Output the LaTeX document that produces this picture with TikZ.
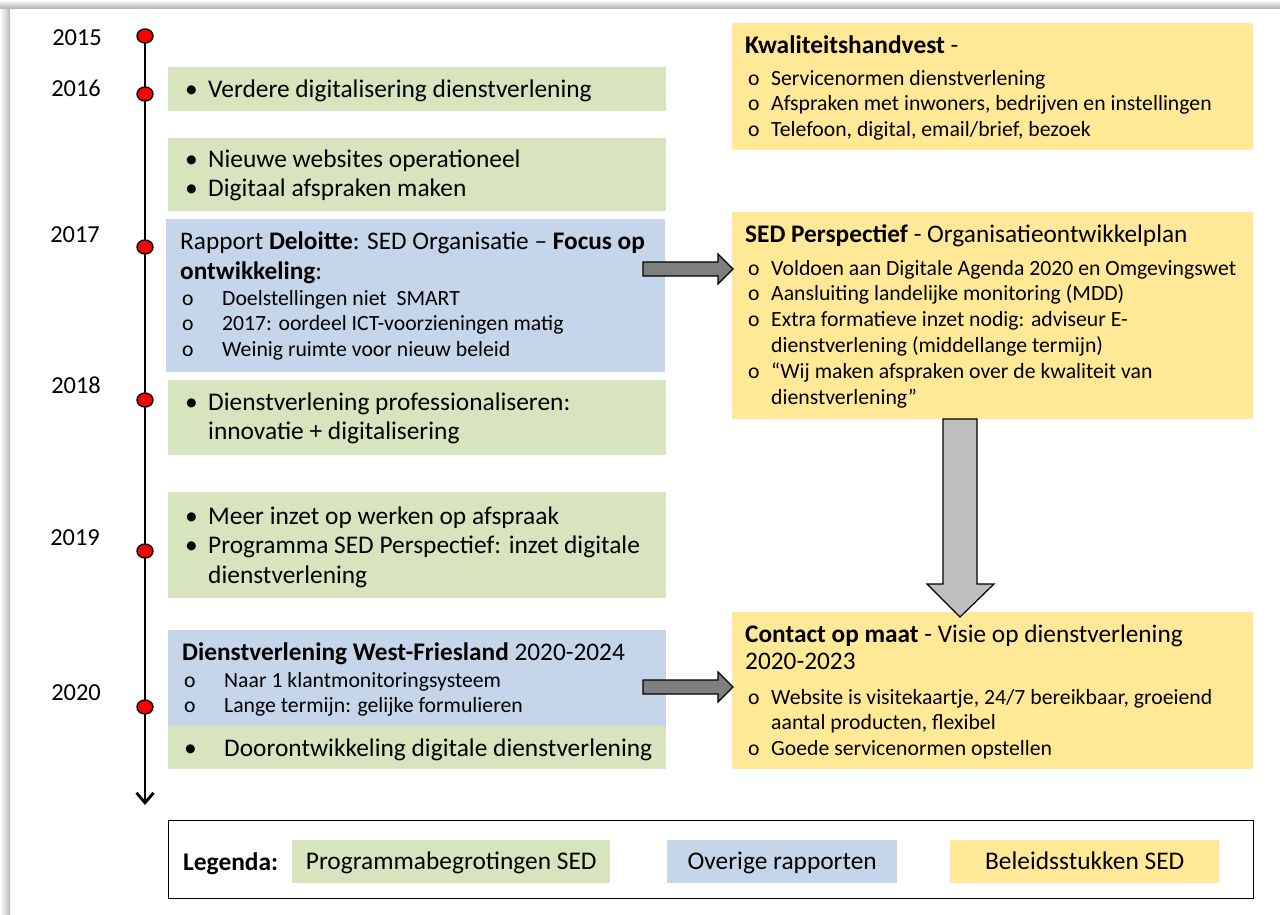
\documentclass[tikz,border=0pt]{standalone}
\usepackage{fontspec}
\setmainfont{Carlito}
\usetikzlibrary{arrows.meta,shapes.geometric}
\definecolor{grn}{HTML}{D7E4BD}
\definecolor{blu}{HTML}{C6D6EA}
\definecolor{yel}{HTML}{FFE997}
\definecolor{agray}{HTML}{7F7F7F}
\definecolor{lgray}{HTML}{BFBFBF}
\newcommand\Yr{\fontsize{24.5}{30}\selectfont}
\newcommand\Lg{\fontsize{25.5}{30}\selectfont}
\newcommand\Hb{\fontsize{25.4}{31}\selectfont}
\newcommand\Sm{\fontsize{21.8}{26}\selectfont}
\newcommand\Yh{\fontsize{25.4}{28}\selectfont}
\newcommand\Kh{\fontsize{25.5}{28}\selectfont}
\newcommand\Bu{\makebox[23bp][l]{•}}
\newcommand\Ob{\makebox[40bp][l]{o}}
\newcommand\Oy{\makebox[23bp][l]{o}}
\begin{document}
\begin{tikzpicture}[x=1bp,y=-1bp,
  box/.style={rectangle, draw=none, inner sep=0pt, anchor=north west},
  tx/.style={inner sep=0pt, anchor=base west, text=black},
  yr/.style={inner sep=0pt, anchor=base, font=\Yr},
  dot/.style={ellipse, draw=black, line width=1.4bp, fill=red, minimum width=16bp, minimum height=14bp, inner sep=0pt},
  darr/.style={draw=black, line width=1.2bp, fill=agray},
  larr/.style={draw=black, line width=1.2bp, fill=lgray}
]
\useasboundingbox (0,0) rectangle (1280,915);
\fill[white] (0,0) rectangle (1280,915);
\shade[top color=white, bottom color=gray!55] (10,0) rectangle (1280,8);
\shade[left color=white, right color=gray!55] (0,8) rectangle (10,915);
\shade[top color=white, bottom color=gray!55] (0,0) rectangle (10,8);

% timeline
\coordinate (tend) at (145,805);
\coordinate (d15) at (145,36);
\coordinate (d16) at (145,94);
\coordinate (d17) at (145,247);
\coordinate (d18) at (145,400);
\coordinate (d19) at (145,551);
\coordinate (d20) at (145,707);
\draw[line width=2.8bp, -{Straight Barb[length=10bp,width=17bp,line width=2.8bp]}] (d15) -- (tend);
\foreach \d in {d15,d16,d17,d18,d19,d20} \node[dot] (n\d) at (\d) {};

\node[yr] (y15) at (77,45) {2015};
\node[yr] (y16) at (76,96) {2016};
\node[yr] (y17) at (75,242) {2017};
\node[yr] (y18) at (76,393) {2018};
\node[yr] (y19) at (75,545) {2019};
\node[yr] (y20) at (76,700) {2020};

% left boxes
\node[box, fill=grn, minimum width=498bp, minimum height=44bp] (g1) at (168,67) {};
\node[box, fill=grn, minimum width=498bp, minimum height=73bp] (g2) at (168,138) {};
\node[box, fill=blu, minimum width=499bp, minimum height=153bp] (b3) at (166,219) {};
\node[box, fill=grn, minimum width=498bp, minimum height=75bp] (g4) at (168,380) {};
\node[box, fill=grn, minimum width=498bp, minimum height=106bp] (g5) at (168,492) {};
\node[box, fill=blu, minimum width=498bp, minimum height=96bp] (b6) at (168,630) {};
\node[box, fill=grn, minimum width=498bp, minimum height=43bp] (g7) at (168,726) {};

\node[tx] (t1) at (185,97) {\Lg\Bu Verdere digitalisering dienstverlening};
\node[tx] (t2) at (185,167) {\Lg\begin{tabular}[t]{@{}l@{}}\Bu Nieuwe websites operationeel\\ \Bu Digitaal afspraken maken\end{tabular}};
\node[tx] (t3a) at (180,249) {\Hb\begin{tabular}[t]{@{}l@{}}Rapport \textbf{Deloitte}: SED Organisatie -- \textbf{Focus op}\\ \textbf{ontwikkeling}:\end{tabular}};
\node[tx] (t3b) at (182,305) {\Sm\begin{tabular}[t]{@{}l@{}}\Ob Doelstellingen niet\ \ SMART\\ \Ob 2017: oordeel ICT-voorzieningen matig\\ \Ob Weinig ruimte voor nieuw beleid\end{tabular}};
\node[tx] (t4) at (185,410) {\Lg\begin{tabular}[t]{@{}l@{}}\Bu Dienstverlening professionaliseren:\\ \hspace{23bp}innovatie + digitalisering\end{tabular}};
\node[tx] (t5) at (185,524) {\Lg\begin{tabular}[t]{@{}l@{}}\Bu Meer inzet op werken op afspraak\\ \Bu Programma SED Perspectief: inzet digitale\\ \hspace{23bp}dienstverlening\end{tabular}};
\node[tx] (t6a) at (182,660) {\Yh\textbf{Dienstverlening West-Friesland} 2020-2024};
\node[tx] (t6b) at (184,687) {\Sm\begin{tabular}[t]{@{}l@{}}\Ob Naar 1 klantmonitoringsysteem\\ \Ob Lange termijn: gelijke formulieren\end{tabular}};
\node[tx] (t7) at (184,756) {\Lg\makebox[40bp][l]{•}Doorontwikkeling digitale dienstverlening};

% right boxes
\node[box, fill=yel, minimum width=521bp, minimum height=127bp] (yA) at (732,23) {};
\node[box, fill=yel, minimum width=521bp, minimum height=207bp] (yB) at (732,212) {};
\node[box, fill=yel, minimum width=521bp, minimum height=157bp] (yC) at (732,612) {};

\node[tx] (tAa) at (745,53) {\Kh\textbf{Kwaliteitshandvest} -};
\node[tx] (tAb) at (748,85) {\Sm\begin{tabular}[t]{@{}l@{}}\Oy Servicenormen dienstverlening\\ \Oy Afspraken met inwoners, bedrijven en instellingen\\ \Oy Telefoon, digital, email/brief, bezoek\end{tabular}};
\node[tx] (tBa) at (745,242) {\Yh\textbf{SED Perspectief} - Organisatieontwikkelplan};
\node[tx] (tBb) at (748,275) {\Sm\begin{tabular}[t]{@{}l@{}}\Oy Voldoen aan Digitale Agenda 2020 en Omgevingswet\\ \Oy Aansluiting landelijke monitoring (MDD)\\ \Oy Extra formatieve inzet nodig: adviseur E-\\ \hspace{23bp}dienstverlening (middellange termijn)\\ \Oy “Wij maken afspraken over de kwaliteit van\\ \hspace{23bp}dienstverlening”\end{tabular}};
\node[tx] (tCa) at (745,642) {\Yh\begin{tabular}[t]{@{}l@{}}\textbf{Contact op maat} - Visie op dienstverlening\\ 2020-2023\end{tabular}};
\node[tx] (tCb) at (748,704) {\Sm\begin{tabular}[t]{@{}l@{}}\Oy Website is visitekaartje, 24/7 bereikbaar, groeiend\\ \hspace{23bp}aantal producten, flexibel\\ \Oy Goede servicenormen opstellen\end{tabular}};

% block arrows
\draw[darr] (643,262) -- (718,262) -- (718,254) -- (733,269) -- (718,284) -- (718,276) -- (643,276) -- cycle;
\draw[darr] (643,680) -- (718,680) -- (718,672) -- (733,687) -- (718,702) -- (718,694) -- (643,694) -- cycle;
\draw[larr] (943,419) -- (977,419) -- (977,584) -- (994,584) -- (960,617) -- (927,584) -- (943,584) -- cycle;

% legend
\node[box, draw=black, line width=1.3bp, minimum width=1085bp, minimum height=78bp] (leg) at (168,820) {};
\node[tx] (lgt) at (183,870) {\Kh\textbf{Legenda:}};
\node[box, fill=grn, minimum width=318bp, minimum height=43bp] (lg1) at (292,840) {};
\node[box, fill=blu, minimum width=230bp, minimum height=43bp] (lg2) at (667,840) {};
\node[box, fill=yel, minimum width=269bp, minimum height=43bp] (lg3) at (950,840) {};
\node[inner sep=0pt, anchor=base, font=\Kh] (lt1) at ([yshift=-8bp]lg1.center) {Programmabegrotingen SED};
\node[inner sep=0pt, anchor=base, font=\Kh] (lt2) at ([yshift=-8bp]lg2.center) {Overige rapporten};
\node[inner sep=0pt, anchor=base, font=\Kh] (lt3) at ([yshift=-8bp]lg3.center) {Beleidsstukken SED};
\end{tikzpicture}
\end{document}
